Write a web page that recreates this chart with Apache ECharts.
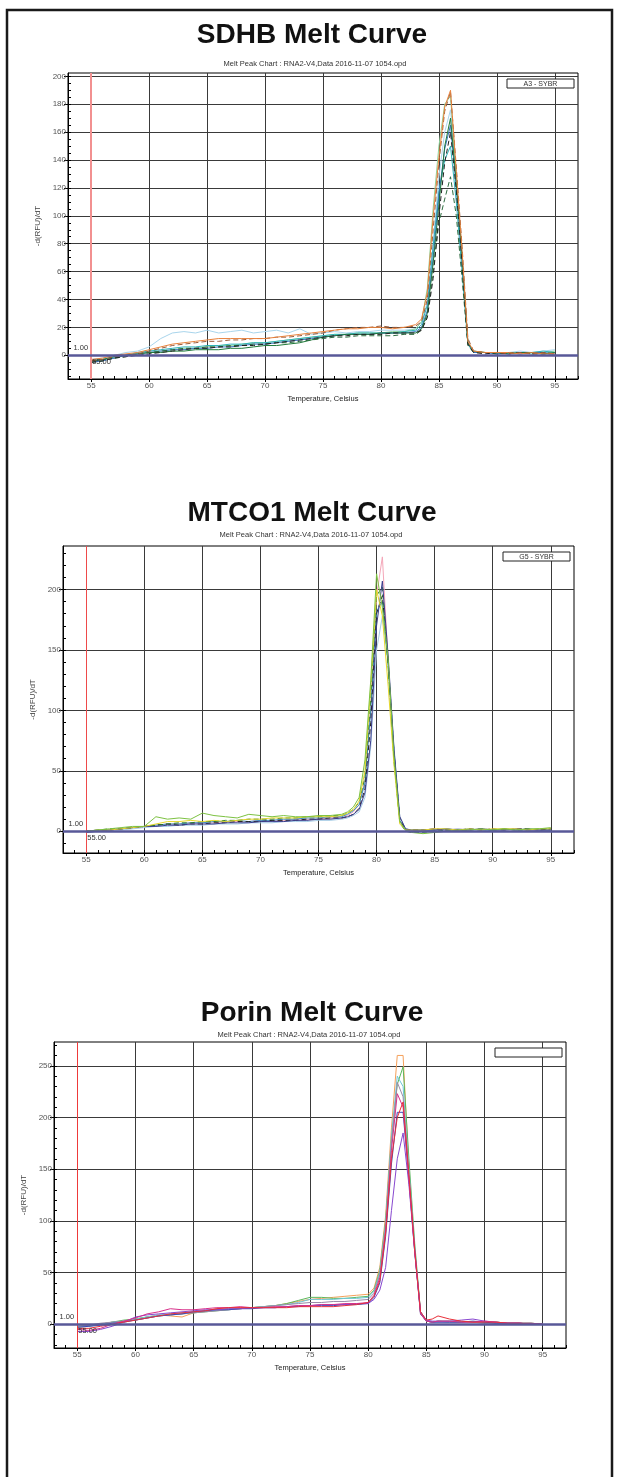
<!DOCTYPE html>
<html><head><meta charset="utf-8">
<script src="https://cdn.jsdelivr.net/npm/echarts@6/dist/echarts.min.js"></script>
<style>html,body{margin:0;padding:0;background:#fff}#c{width:618px;height:1477px}</style>
</head><body><div id="c"></div>
<script>
// ---------------- DATA ----------------
const titles = ['SDHB Melt Curve', 'MTCO1 Melt Curve', 'Porin Melt Curve'];
const subTitle = 'Melt Peak Chart : RNA2-V4,Data 2016-11-07 1054.opd';
const legendTexts = ['A3 - SYBR', 'G5 - SYBR', ''];
const xTickLabels = [55, 60, 65, 70, 75, 80, 85, 90, 95];
const sdhbYTicks = [0, 20, 40, 60, 80, 100, 120, 140, 160, 180, 200];
const mtco1YTicks = [0, 50, 100, 150, 200];
const porinYTicks = [0, 50, 100, 150, 200, 250];
const xName = 'Temperature, Celsius';
const yName = '-d(RFU)/dT';

// SDHB
const sdhbTemps = [55,56,57,58,59,60,61,62,63,64,65,66,67,68,69,70,71,72,73,74,75,76,77,78,79,80,81,82,83,83.5,84,84.5,85,85.5,86,86.5,87,87.5,88,89,90,91,92,93,94,95];
const sdhbOrange = [-3,-2,0,1,2,4,6,8,9,10, 11,12,12,12,12,12,13,14,15,16, 17,18,19,19,20,20,19,20,22, 26,45,99,142,178,190,132,75,10,3, 2,2,2,1,2,1,1];
const sdhbBrown = [-4,-3,-1,0,1,3,5,7,8,9, 10,10,11,11,12,12,13,13,14,15, 16,18,19,20,20,21,20,20,21, 24,40,90,138,175,189,135,78,12,3, 2,2,1,2,1,2,1];
const sdhbLightGreen = [-4,-3,-2,0,1,2,3,4,5,5, 6,7,7,8,9,9,10,11,12,13, 14,15,15,16,16,16,17,17,19, 24,48,105,150,180,186,128,70,8,2, 2,1,2,2,1,2,3];
const sdhbLightBlue = [-3,-2,0,2,3,6,12,16,17,16, 18,16,17,18,16,17,18,16,19,15, 16,17,16,17,17,18,18,18,19, 24,38,80,128,160,176,130,72,9,3, 2,2,2,3,2,3,4];
const sdhbBlue = [-5,-4,-2,0,1,2,3,4,4,5, 5,6,6,7,8,8,9,10,11,12, 13,14,15,15,15,16,16,16,17, 20,32,70,115,148,165,120,68,9,2, 2,1,2,1,2,2,1];
const sdhbTeal = [-4,-3,-1,0,2,3,4,5,6,6, 7,7,8,8,9,9,10,11,12,13, 14,15,15,16,16,16,16,17,18, 22,36,78,118,140,150,110,60,8,2, 2,2,1,2,2,3,2];
const sdhbGreenDash = [-5,-4,-2,-1,1,2,3,4,5,5, 6,6,7,7,8,8,9,9,10,11, 12,13,13,14,14,14,14,15,15, 18,28,60,95,112,128,100,55,7,2, 2,1,2,2,1,2,1];
const sdhbDarkGreen = [-4,-3,-1,0,1,2,2,3,3,4, 4,4,5,5,6,7,7,8,9,11, 13,14,15,15,15,16,16,16,16, 19,30,66,108,150,170,124,70,9,3, 2,2,1,2,2,1,2];
const sdhbBlackDash = [-5,-4,-2,-1,0,1,2,3,4,5, 5,6,6,7,7,8,9,10,11,12, 13,14,14,15,15,15,16,16,16, 18,27,55,100,138,160,118,66,8,2, 1,2,1,2,1,1,1];

// MTCO1
const mtco1Temps = [55,56,57,58,59,60,61,62,63,64,65,66,67,68,69,70,71,72,73,74,75,76,77,77.5,78,78.5,79,79.5,80,80.5,81,81.5,82,82.5,83,84,85,86,87,88,89,90,91,92,93,94,95];
const mtco1Green = [0,1,2,3,4,4,12,10,11,10, 15,13,12,11,14,13,12,13,12,12, 13,13,14, 16,20,28,59,125,213,185,142,62,8,1,-1, -2,-1,0,1,1,2,1,2,1,2,2,3];
const mtco1Yellow = [0,1,1,2,3,4,6,8,8,9, 8,9,8,9,10,10,11,11,11,12, 12,12,13, 15,18,25,50,120,200,178,120,55,6,1,1, 1,2,2,1,2,1,2,2,2,1,2,2];
const mtco1Navy = [-1,0,1,2,3,4,4,5,5,6, 6,6,7,7,7,8,8,8,9,9, 10,10,11, 12,14,18,32,75,170,207,145,68,12,2,1, 1,1,2,1,1,2,1,1,2,1,1,1];
const mtco1Pink = [0,1,1,2,3,4,5,6,6,7, 7,7,8,8,8,9,9,9,10,10, 10,11,11, 13,16,22,42,105,195,227,140,60,8,1,1, 1,2,1,2,1,2,1,2,1,2,1,2];
const mtco1BlackDash = [0,0,1,2,3,4,5,6,5,6, 6,7,7,8,8,8,9,9,9,10, 10,11,11, 12,14,19,35,90,180,195,140,65,10,1,1, 1,2,1,1,2,1,2,1,2,2,1,2];
const mtco1LightBlue = [-1,0,1,1,2,3,4,4,5,5, 5,6,6,6,7,7,7,8,8,8, 9,9,10, 11,13,16,28,70,150,178,140,70,12,2,1, 1,1,1,2,1,1,1,2,1,1,2,1];
const mtco1Blue = [0,1,1,2,3,4,5,6,6,7, 7,8,8,9,8,9,9,10,10,11, 11,12,12, 14,17,22,40,100,182,190,138,66,9,1,1, 1,1,2,1,2,1,1,2,1,2,1,1];
const mtco1GreenDash = [0,1,2,2,3,4,5,6,7,7, 8,8,9,9,10,10,10,11,11,12, 12,13,13, 15,18,24,45,110,195,202,135,58,7,0,-1, -1,0,1,1,1,2,1,2,1,1,2,2];

// Porin
const porinTemps = [55,56,57,58,59,60,61,62,63,64,65,66,67,68,69,70,71,72,73,74,75,76,77,78,79,80,80.5,81,81.5,82,82.5,83,83.5,84,84.5,85,85.5,86,87,88,89,90,91,92,93,94,95];
const porinOrange = [-3,-2,0,2,3,5,7,9,8,7, 11,13,15,16,16,16,17,18,20,22, 24,25,26,27,28,29, 35,55,105,190,260,260,150,72,12,3,2, 3,2,2,2,1,2,1,1,1,0];
const porinGreen = [-2,-1,0,2,4,5,7,8,9,10, 11,12,13,14,15,16,17,18,20,23, 26,26,25,25,26,27, 33,52,100,178,232,249,160,78,12,3,2, 3,3,2,2,2,2,1,1,1,0];
const porinCyan = [-3,-2,0,2,3,5,7,9,10,11, 12,13,14,15,15,16,17,18,19,21, 24,24,24,25,25,26, 32,50,98,182,240,230,150,75,11,3,2, 3,2,2,2,2,1,1,1,1,0];
const porinGrey = [-2,-1,1,2,3,4,6,8,9,10, 11,12,13,14,15,16,17,18,19,20, 21,21,22,22,23,24, 30,48,95,175,234,220,145,72,10,3,2, 2,2,2,2,1,1,1,1,0,0];
const porinMagenta = [-5,-6,-4,0,3,6,10,12,15,14, 14,15,16,16,17,16,16,17,17,18, 18,19,19,20,20,21, 28,45,90,168,223,210,140,70,10,3,2, 3,3,2,2,3,2,1,1,1,0];
const porinRed = [-4,-4,-2,0,2,4,6,8,10,11, 12,13,15,16,16,16,16,16,16,17, 17,17,17,18,19,21, 27,42,88,160,200,215,145,72,12,4,5, 8,5,3,2,2,2,1,1,0,0];
const porinBlue = [-3,-2,-1,1,2,4,6,8,9,10, 12,13,14,14,15,15,16,16,17,17, 18,18,18,19,19,20, 26,40,85,155,205,205,140,70,10,3,2, 2,2,2,3,2,1,1,1,0,0];
const porinPurple = [-7,-7,-5,-2,2,7,9,10,11,12, 13,14,14,15,15,16,16,16,17,18, 18,19,19,19,20,20, 24,33,55,110,160,185,135,70,12,4,3, 3,3,4,5,3,2,1,1,0,0];

// ---------------- LAYOUT / STYLE ----------------
const panels = [
  { temps: sdhbTemps, ymin: -17, ymax: 202.4, yTicks: sdhbYTicks, minorStep: 5,
    grid: {left: 68, top: 73, width: 510, height: 306}, titleY: 35, subY: 64, subX: 315, redColor: '#f29090', redWidth: 2,
    series: [
      [sdhbLightBlue, '#a9d5ec', false], [sdhbLightGreen, '#8fd49a', false], [sdhbTeal, '#2fb3b8', false],
      [sdhbBlue, '#3b74c4', false], [sdhbDarkGreen, '#1f7a3a', false], [sdhbGreenDash, '#2c6b3e', true],
      [sdhbBlackDash, '#222222', true], [sdhbBrown, '#9b5b3a', true], [sdhbOrange, '#e8823c', false]
    ]},
  { temps: mtco1Temps, ymin: -18, ymax: 236, yTicks: mtco1YTicks, minorStep: 10,
    grid: {left: 63, top: 546, width: 511, height: 307}, titleY: 513, subY: 535, subX: 311, redColor: '#ee4a4a', redWidth: 1,
    series: [
      [mtco1Pink, '#f4a6b8', false], [mtco1LightBlue, '#a7cde6', false], [mtco1Blue, '#3b8fc4', false],
      [mtco1BlackDash, '#222222', true], [mtco1GreenDash, '#2e7d32', true], [mtco1Navy, '#3c3c8c', false],
      [mtco1Yellow, '#e6d82a', false], [mtco1Green, '#7dc242', false]
    ]},
  { temps: porinTemps, ymin: -23, ymax: 273, yTicks: porinYTicks, minorStep: 10,
    grid: {left: 54, top: 1042, width: 512, height: 306}, titleY: 1013, subY: 1035, subX: 309, redColor: '#ee3a3a', redWidth: 1,
    series: [
      [porinOrange, '#f5a05a', false], [porinGreen, '#5cb85c', false], [porinCyan, '#6ec6d8', false],
      [porinGrey, '#9a8aa8', false], [porinBlue, '#3a48b8', false], [porinPurple, '#8848d0', false],
      [porinMagenta, '#d8308a', false], [porinRed, '#e8303a', false]
    ]}
];

const FONT = '"Liberation Sans", Arial, sans-serif';
const grids = [], xAxes = [], yAxes = [], series = [], graphics = [];

graphics.push({ type: 'rect', shape: {x: 7, y: 10, width: 605, height: 1500},
  style: {fill: 'none', stroke: '#1a1a1a', lineWidth: 2.5}, z: 100, silent: true });

panels.forEach((p, i) => {
  grids.push(Object.assign({ show: true, borderColor: '#000', borderWidth: 1, backgroundColor: 'transparent' }, p.grid));
  const minorY = [];
  for (let v = Math.ceil(p.ymin / p.minorStep) * p.minorStep; v <= p.ymax; v += p.minorStep) minorY.push(v);
  xAxes.push({ type: 'value', gridIndex: i, min: 53, max: 97, position: 'bottom',
    axisLine: {show: true, onZero: false, lineStyle: {color: '#000', width: 1}},
    axisTick: {show: true, customValues: xTickLabels, length: 3, inside: false, lineStyle: {color: '#000'}},
    axisLabel: {customValues: xTickLabels, fontSize: 8, color: '#555', margin: 3, fontFamily: FONT},
    splitLine: {show: true, lineStyle: {color: '#3a3a3a', width: 1}},
    name: xName, nameLocation: 'middle', nameGap: 16,
    nameTextStyle: {fontSize: 7.5, color: '#222', fontFamily: FONT} });
  xAxes.push({ type: 'value', gridIndex: i, min: 53, max: 97, interval: 1, position: 'bottom',
    axisLine: {show: false, onZero: false},
    axisTick: {show: true, inside: true, length: 3, lineStyle: {color: '#000'}},
    axisLabel: {show: false}, splitLine: {show: false} });
  yAxes.push({ type: 'value', gridIndex: i, min: p.ymin, max: p.ymax, position: 'left',
    axisLine: {show: true, onZero: false, lineStyle: {color: '#000', width: 1}},
    axisTick: {show: true, customValues: p.yTicks, length: 4, inside: false, lineStyle: {color: '#000'}},
    axisLabel: {customValues: p.yTicks, fontSize: 8, color: '#555', margin: 2, fontFamily: FONT},
    splitLine: {show: true, lineStyle: {color: '#3a3a3a', width: 1}},
    name: yName, nameLocation: 'middle', nameGap: 22, nameRotate: 90,
    nameTextStyle: {fontSize: 8, color: '#444', fontFamily: FONT} });
  yAxes.push({ type: 'value', gridIndex: i, min: p.ymin, max: p.ymax, position: 'left',
    axisLine: {show: false, onZero: false},
    axisTick: {show: true, customValues: minorY, inside: true, length: 3, lineStyle: {color: '#000'}},
    axisLabel: {show: false}, splitLine: {show: false} });

  p.series.forEach((s, k) => {
    const ser = { type: 'line', xAxisIndex: 2 * i, yAxisIndex: 2 * i, showSymbol: false, symbol: 'none',
      silent: true, animation: false, z: 3,
      data: p.temps.map((t, j) => [t, s[0][j]]),
      lineStyle: {color: s[1], width: 1, type: s[2] ? [5, 3] : 'solid'}, itemStyle: {color: s[1]} };
    if (k === 0) {
      ser.markLine = { silent: true, symbol: 'none', animation: false, label: {show: false},
        data: [
          {xAxis: 55, lineStyle: {color: p.redColor, width: p.redWidth, type: 'solid'}},
          {yAxis: 0, lineStyle: {color: '#585898', width: 2.5, type: 'solid'}}
        ] };
    }
    series.push(ser);
  });

  graphics.push({ type: 'text', x: 312, y: p.titleY, silent: true,
    style: {text: titles[i], font: 'bold 28px ' + FONT, fill: '#111', align: 'center', verticalAlign: 'middle'} });
  graphics.push({ type: 'text', x: p.subX, y: p.subY, silent: true,
    style: {text: subTitle, font: '7.5px ' + FONT, fill: '#333', align: 'center', verticalAlign: 'middle'} });
  const lx = p.grid.left + p.grid.width - 4 - 67, ly = p.grid.top + 6;
  graphics.push({ type: 'rect', shape: {x: lx, y: ly, width: 67, height: 9}, silent: true,
    style: {fill: '#fff', stroke: '#222', lineWidth: 1}, z: 10 });
  graphics.push({ type: 'text', x: lx + 33.5, y: ly + 5, silent: true, z: 11,
    style: {text: legendTexts[i], font: '7px ' + FONT, fill: '#333', align: 'center', verticalAlign: 'middle'} });
});

const chart = echarts.init(document.getElementById('c'), null, {renderer: 'canvas'});
chart.setOption({ animation: false, backgroundColor: '#fff', grid: grids, xAxis: xAxes, yAxis: yAxes, series: series, graphic: graphics });

const extra = [];
panels.forEach((p, i) => {
  const a = chart.convertToPixel({gridIndex: i}, [54.1, 0]);
  const b = chart.convertToPixel({gridIndex: i}, [55, 0]);
  extra.push({ type: 'text', x: a[0], y: a[1] - 3, silent: true, z: 20,
    style: {text: '1.00', font: '7.5px ' + FONT, fill: '#333', align: 'center', verticalAlign: 'bottom'} });
  extra.push({ type: 'text', x: b[0] + 1, y: b[1] + 3, silent: true, z: 20,
    style: {text: '55.00', font: '7.5px ' + FONT, fill: '#333', align: 'left', verticalAlign: 'top'} });
});
chart.setOption({ graphic: graphics.concat(extra) });
</script>
</body></html>
